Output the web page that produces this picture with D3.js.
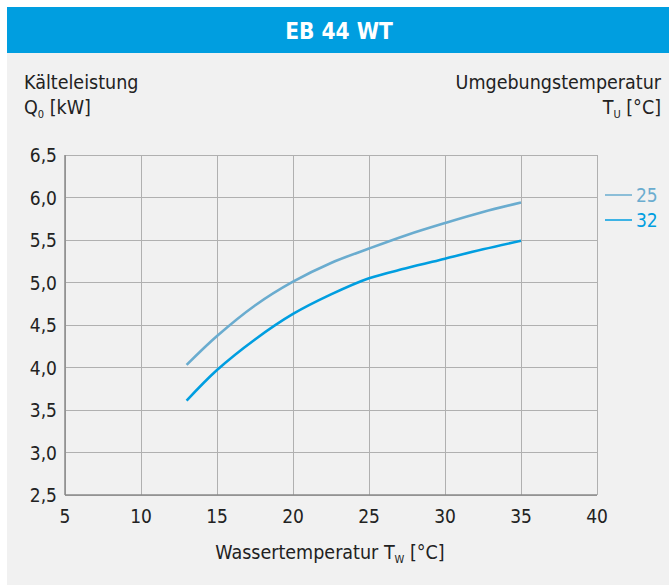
<!DOCTYPE html>
<html><head><meta charset="utf-8">
<script src="https://cdn.jsdelivr.net/npm/d3@7"></script>
<style>
html,body{margin:0;padding:0;background:#fff;}
svg text{font-family:"Liberation Sans Narrow","DejaVu Sans Condensed","Roboto",sans-serif;}
</style></head>
<body>
<svg id="c" width="669" height="585"></svg>
<script>
const title = "EB 44 WT";
const xTicks = [5,10,15,20,25,30,35,40];
const yTicks = [2.5,3.0,3.5,4.0,4.5,5.0,5.5,6.0,6.5];
const waterTemp = [13,15,17.5,20,22.5,25,27.5,30,32.5,35];
const series25 = [4.03,4.37,4.73,5.01,5.23,5.40,5.56,5.70,5.83,5.94];
const series32 = [3.61,3.97,4.33,4.63,4.86,5.05,5.17,5.28,5.39,5.49];
const seriesNames = ["25","32"];
const colors = ["#6aaccf","#009ee0"];

const svg = d3.select("#c");
const W = 669, H = 585;
svg.append("rect").attr("x",7).attr("y",7).attr("width",W-7).attr("height",H-7).attr("fill","#f1f1f1");
svg.append("rect").attr("x",7).attr("y",7).attr("width",W-7).attr("height",46).attr("fill","#009ee0");
svg.append("text").attr("x",339).attr("y",39).attr("text-anchor","middle")
  .attr("fill","#fff").attr("font-size",22.5).attr("font-weight","bold").text(title);

const x = d3.scaleLinear().domain([5,40]).range([65,597]);
const y = d3.scaleLinear().domain([2.5,6.5]).range([495,155]);

const g = svg.append("g");
g.selectAll(".vg").data(xTicks).join("line")
  .attr("x1",d=>x(d)).attr("x2",d=>x(d)).attr("y1",y(6.5)).attr("y2",y(2.5))
  .attr("stroke","#b0b0b0").attr("stroke-width",1).attr("shape-rendering","crispEdges");
g.selectAll(".hg").data(yTicks).join("line")
  .attr("x1",x(5)).attr("x2",x(40)).attr("y1",d=>y(d)).attr("y2",d=>y(d))
  .attr("stroke","#b0b0b0").attr("stroke-width",1).attr("shape-rendering","crispEdges");
g.append("line").attr("x1",x(5)).attr("x2",x(5)).attr("y1",y(6.5)).attr("y2",y(2.5))
  .attr("stroke","#8a8a8a").attr("stroke-width",1.5);
g.append("line").attr("x1",x(5)).attr("x2",x(40)).attr("y1",y(2.5)).attr("y2",y(2.5))
  .attr("stroke","#8a8a8a").attr("stroke-width",1.5);

const fmt = d => d3.format(".1f")(d).replace(".",",");
g.selectAll(".yl").data(yTicks).join("text")
  .attr("x",57).attr("y",d=>y(d)+7).attr("text-anchor","end")
  .attr("font-size",19).attr("fill","#222").text(fmt);
g.selectAll(".xl").data(xTicks).join("text")
  .attr("x",d=>x(d)).attr("y",523).attr("text-anchor","middle")
  .attr("font-size",19).attr("fill","#222").text(d=>d);

const line = d3.line().x(d=>x(d[0])).y(d=>y(d[1])).curve(d3.curveCatmullRom.alpha(0.5));
[series25,series32].forEach((s,i)=>{
  svg.append("path").datum(waterTemp.map((t,j)=>[t,s[j]]))
    .attr("d",line).attr("fill","none").attr("stroke",colors[i]).attr("stroke-width",2.6);
});
seriesNames.forEach((n,i)=>{
  const ly = 195 + i*25;
  svg.append("line").attr("x1",605).attr("x2",632).attr("y1",ly).attr("y2",ly)
    .attr("stroke",colors[i]).attr("stroke-width",1.5);
  svg.append("text").attr("x",636).attr("y",ly+7).attr("font-size",19)
    .attr("fill",colors[i]).text(n);
});

const t1 = svg.append("g").attr("fill","#222").attr("font-size",19.5);
t1.append("text").attr("x",24).attr("y",89).text("Kälteleistung");
const q = t1.append("text").attr("x",24).attr("y",114);
q.append("tspan").text("Q");
q.append("tspan").attr("font-size",11).attr("dy",4).text("0");
q.append("tspan").attr("dy",-4).text(" [kW]");
t1.append("text").attr("x",661).attr("y",89).attr("text-anchor","end").text("Umgebungstemperatur");
const tu = t1.append("text").attr("x",661).attr("y",114).attr("text-anchor","end");
tu.append("tspan").text("T");
tu.append("tspan").attr("font-size",11).attr("dy",4).text("U");
tu.append("tspan").attr("dy",-4).text(" [°C]");
const xt = t1.append("text").attr("x",330).attr("y",559).attr("text-anchor","middle");
xt.append("tspan").text("Wassertemperatur T");
xt.append("tspan").attr("font-size",11).attr("dy",4).text("W");
xt.append("tspan").attr("dy",-4).text(" [°C]");
</script>
</body></html>
